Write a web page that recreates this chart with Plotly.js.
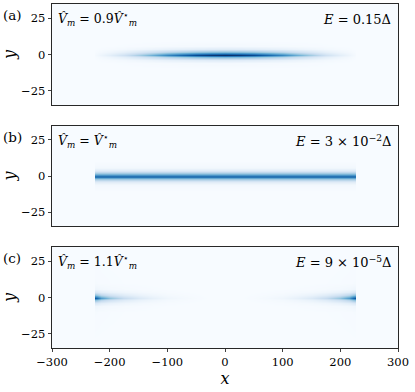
<!DOCTYPE html>
<html>
<head>
<meta charset="utf-8">
<script src="https://cdn.plot.ly/plotly-3.0.1.min.js"></script>
<style>html,body{margin:0;padding:0;background:#fff}</style>
</head>
<body>
<div id="chart" style="width:415px;height:392px"></div>
<script>
// Sample positions along x (lattice units) and y
const xNodes = [-300, -235, -228, -225, -222, -215, -200, -175, -150, -125, -100, -75, -50, -25, 0,
                25, 50, 75, 100, 125, 150, 175, 200, 215, 222, 225, 228, 235, 300];
const yNodes = [-35, -10, -6, -3.5, -1.8, 0, 1.8, 3.5, 6, 10, 35];

// Density profile along x, panel (a): V = 0.9 V*
const profileXA = [0, 0, 0, 0.015, 0.025, 0.05, 0.1, 0.2, 0.35, 0.5, 0.66, 0.79, 0.9, 0.97, 1.0,
                   0.97, 0.9, 0.79, 0.66, 0.5, 0.35, 0.2, 0.1, 0.05, 0.025, 0.015, 0, 0, 0];
// panel (b): V = V*
const profileXB = [0, 0, 0, 0.82, 0.82, 0.82, 0.82, 0.82, 0.82, 0.82, 0.82, 0.82, 0.82, 0.82, 0.82,
                   0.82, 0.82, 0.82, 0.82, 0.82, 0.82, 0.82, 0.82, 0.82, 0.82, 0.82, 0, 0, 0];
// panel (c): V = 1.1 V*
const profileXC = [0, 0, 0, 0.85, 0.78, 0.58, 0.4, 0.24, 0.14, 0.08, 0.04, 0.02, 0.008, 0, 0,
                   0, 0.008, 0.02, 0.04, 0.08, 0.14, 0.24, 0.4, 0.58, 0.78, 0.85, 0, 0, 0];

// Transverse (y) profiles
const profileYA = [0, 0, 0.02, 0.12, 0.45, 1, 0.45, 0.12, 0.02, 0, 0];
const profileYB = [0, 0, 0.03, 0.15, 0.5, 1, 0.5, 0.15, 0.03, 0, 0];
const profileYC = [0, 0.01, 0.05, 0.18, 0.5, 1, 0.5, 0.18, 0.05, 0.01, 0];

const yTickVals = [-25, 0, 25];
const yTickText = ['−25', '0', '25'];
const xTickVals = [-300, -200, -100, 0, 100, 200, 300];
const xTickText = ['−300', '−200', '−100', '0', '100', '200', '300'];

const panelLabels = ['(a)', '(b)', '(c)'];
const leftLabels = [
  '<i>V̂</i><sub><i>m</i></sub> = 0.9<i>V̂</i><sup>⋆</sup><sub><i>m</i></sub>',
  '<i>V̂</i><sub><i>m</i></sub> = <i>V̂</i><sup>⋆</sup><sub><i>m</i></sub>',
  '<i>V̂</i><sub><i>m</i></sub> = 1.1<i>V̂</i><sup>⋆</sup><sub><i>m</i></sub>'
];
const rightLabels = [
  '<i>E</i> = 0.15Δ',
  '<i>E</i> = 3 × 10<sup>−2</sup>Δ',
  '<i>E</i> = 9 × 10<sup>−5</sup>Δ'
];

const blues = [
  [0, '#f7fbff'], [0.125, '#deebf7'], [0.25, '#c6dbef'], [0.375, '#9ecae1'],
  [0.5, '#6baed6'], [0.625, '#4292c6'], [0.75, '#2171b5'], [0.875, '#08519c'], [1, '#08306b']
];

function grid(px, py) {
  return py.map(v => px.map(u => u * v));
}

const FONT = 'DejaVu Serif';
const profiles = [[profileXA, profileYA], [profileXB, profileYB], [profileXC, profileYC]];
const data = profiles.map((p, i) => ({
  type: 'heatmap',
  x: xNodes, y: yNodes, z: grid(p[0], p[1]),
  colorscale: blues, zmin: 0, zmax: 1, zsmooth: 'best', showscale: false,
  xaxis: i === 0 ? 'x' : 'x' + (i + 1),
  yaxis: i === 0 ? 'y' : 'y' + (i + 1),
  hoverinfo: 'skip'
}));

const domains = [[0.7064, 1], [0.3532, 0.6468], [0, 0.2936]];
const layout = {
  width: 415, height: 392,
  margin: {l: 52, r: 17, t: 4, b: 44},
  paper_bgcolor: '#ffffff',
  plot_bgcolor: '#f7fbff',
  font: {family: FONT, size: 11.5, color: '#000'},
  showlegend: false,
  annotations: []
};
for (let i = 0; i < 3; i++) {
  const s = i === 0 ? '' : String(i + 1);
  const last = i === 2;
  layout['xaxis' + s] = {
    anchor: 'y' + s, domain: [0, 1], range: [-300, 300],
    showline: true, mirror: true, linecolor: '#111', linewidth: 0.9,
    showgrid: false, zeroline: false,
    ticks: last ? 'outside' : '', ticklen: 3.5, tickwidth: 0.8, tickcolor: '#111',
    tickvals: xTickVals, ticktext: xTickText, showticklabels: last,
    tickfont: {family: FONT, size: 11.5},
    title: last ? {text: '<i>x</i>', font: {family: FONT, size: 16}, standoff: 4} : {text: ''}
  };
  layout['yaxis' + s] = {
    anchor: 'x' + s, domain: domains[i], range: [-35, 35],
    showline: true, mirror: true, linecolor: '#111', linewidth: 0.9,
    showgrid: false, zeroline: false,
    ticks: 'outside', ticklen: 3.5, tickwidth: 0.8, tickcolor: '#111',
    tickvals: yTickVals, ticktext: yTickText,
    tickfont: {family: FONT, size: 11.5},
    title: {text: '<i>y</i>', font: {family: FONT, size: 16}, standoff: 6}
  };
  layout.annotations.push({
    text: panelLabels[i], xref: 'paper', yref: 'y' + s + ' domain',
    x: -0.148, y: 0.89, xanchor: 'left', yanchor: 'middle', showarrow: false,
    font: {family: FONT, size: 13.5}
  });
  layout.annotations.push({
    text: leftLabels[i], xref: 'x' + s + ' domain', yref: 'y' + s + ' domain',
    x: 0.012, y: 0.85, xanchor: 'left', yanchor: 'middle', showarrow: false,
    font: {family: FONT, size: 12.5}
  });
  layout.annotations.push({
    text: rightLabels[i], xref: 'x' + s + ' domain', yref: 'y' + s + ' domain',
    x: 0.985, y: 0.85, xanchor: 'right', yanchor: 'middle', showarrow: false,
    font: {family: FONT, size: 13}
  });
}

Plotly.newPlot('chart', data, layout, {staticPlot: true, displayModeBar: false});
</script>
</body>
</html>
